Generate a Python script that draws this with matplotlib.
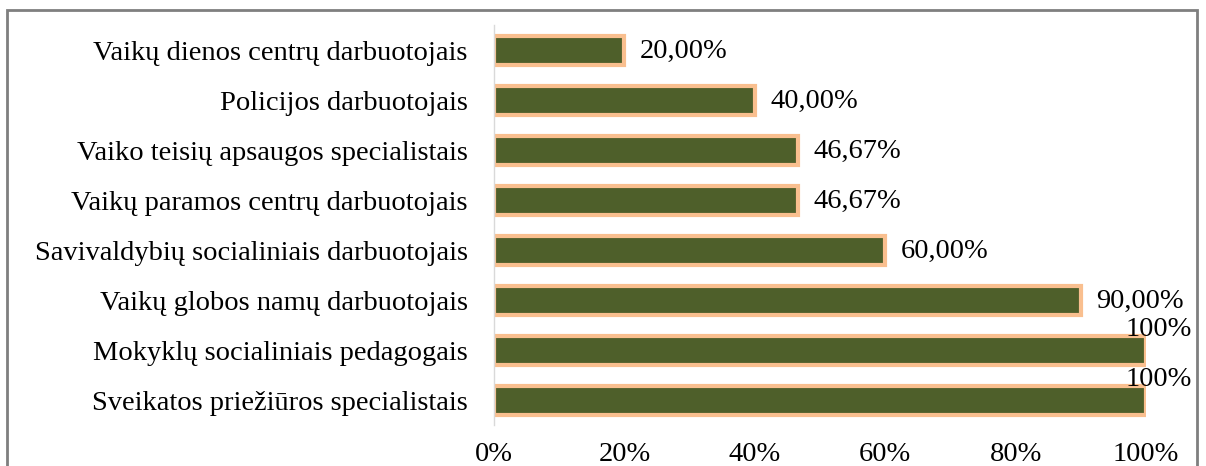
import matplotlib.pyplot as plt
from matplotlib.patches import Rectangle

categories = ['Vaikų dienos centrų darbuotojais', 'Policijos darbuotojais',
              'Vaiko teisių apsaugos specialistais', 'Vaikų paramos centrų darbuotojais',
              'Savivaldybių socialiniais darbuotojais', 'Vaikų globos namų darbuotojais',
              'Mokyklų socialiniais pedagogais', 'Sveikatos priežiūros specialistais']
values = [0.20, 0.40, 0.4667, 0.4667, 0.60, 0.90, 1.00, 1.00]
value_labels = ['20,00%', '40,00%', '46,67%', '46,67%', '60,00%', '90,00%', '100%', '100%']
xticks = [0, 0.2, 0.4, 0.6, 0.8, 1.0]
xtick_labels = ['0%', '20%', '40%', '60%', '80%', '100%']

plt.rcParams['font.family'] = ['Liberation Serif', 'DejaVu Serif']
fs = 20.5

W, H = 1206, 466
fig = plt.figure(figsize=(W / 100, H / 100), dpi=100)
ax = fig.add_axes([494 / W, 1 - 425 / H, (1146 - 494) / W, 400 / H])

y = list(range(len(categories)))
ax.barh(y, values, height=0.58, color='#4E5F2A', edgecolor='#F9BF8F', linewidth=3)
ax.set_ylim(len(categories) - 0.5, -0.5)
ax.set_xlim(0, 1)

for i, (v, lab) in enumerate(zip(values, value_labels)):
    if v >= 1.0:
        ax.text(v - 0.032, i - 0.40, lab, fontsize=fs, va='center', ha='left', clip_on=False)
    else:
        ax.text(v + 0.024, i + 0.03, lab, fontsize=fs, va='center', ha='left')

ax.set_yticks(y)
ax.set_yticklabels(categories, fontsize=fs)
ax.set_xticks(xticks)
ax.set_xticklabels(xtick_labels, fontsize=fs)
ax.tick_params(axis='both', length=0)
ax.tick_params(axis='y', pad=19)
ax.tick_params(axis='x', pad=12)
for s in ['top', 'right', 'bottom']:
    ax.spines[s].set_visible(False)
ax.spines['left'].set_color('#D9D9D9')
ax.spines['left'].set_linewidth(1)

fig.patches.append(Rectangle((7 / W, -0.1), (1197 - 7) / W, 1.1 - 10 / H,
                             transform=fig.transFigure, fill=False,
                             edgecolor='#7F7F7F', linewidth=2))

fig.savefig('out.png', dpi=100)
